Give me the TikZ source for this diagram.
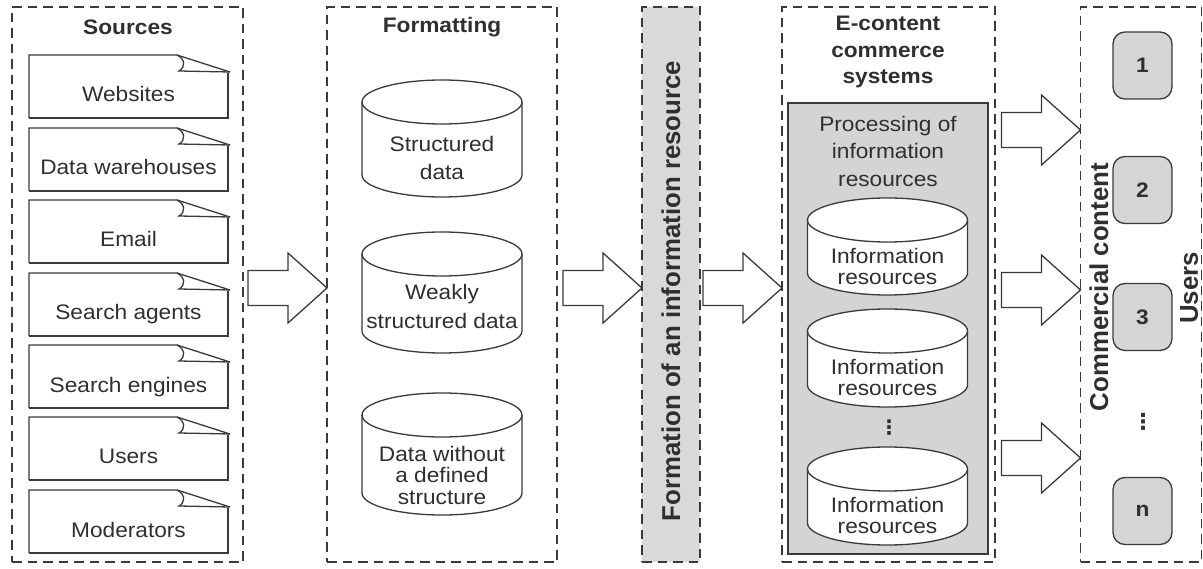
\documentclass[tikz,border=0pt]{standalone}
\usepackage{fontspec}
\setmainfont{Liberation Sans}[FakeStretch=1.08]
\newfontfamily\rotfont{Liberation Sans}
\newfontfamily\symfont{DejaVu Sans}
\usetikzlibrary{calc}

\definecolor{ink}{HTML}{2F2F2F}
\definecolor{edge}{HTML}{3A3A3A}
\definecolor{barfill}{HTML}{D9D9D9}
\definecolor{procfill}{HTML}{D4D4D4}
\definecolor{tilefill}{HTML}{D5D5D5}

\tikzset{
  every node/.style={text=ink, inner sep=0pt, outer sep=0pt},
  zone/.style={draw=edge, line width=1.8pt, dash pattern=on 9.5pt off 6pt},
  thin/.style={draw=edge, line width=1.3pt, line join=miter},
  arrowline/.style={thin, fill=white},
  label/.style={font=\fontsize{21}{24}\selectfont, text height=15pt, text depth=4pt},
  title/.style={font=\bfseries\fontsize{21}{26.5}\selectfont, align=center},
  multi/.style={font=\fontsize{21}{#1}\selectfont, align=center},
  vlabel/.style={rotate=90, font=\rotfont\bfseries\fontsize{25.8}{30}\selectfont},
  vdots/.style={font=\symfont\bfseries\fontsize{#1}{#1}\selectfont},
  tile/.style={thin, fill=tilefill, rounded corners=12pt, minimum width=59pt,
    minimum height=67pt, font=\bfseries\fontsize{21}{24}\selectfont},
  blockarrow/.pic={
    \draw[arrowline] (-79,-17.5) -- (-39,-17.5) -- (-39,-35) -- (0,0)
      -- (-39,35) -- (-39,17.5) -- (-79,17.5) -- cycle;
  }
}

% a source card with a curled top-right corner; #2 = top edge
\newcommand\sourcecard[3]{%
  \begin{scope}[shift={(29,#2)}]
    \draw[thin] (0,63) -- (0,0) -- (148,0) -- (201,17);
    \draw[thin] (148,0) .. controls (156,4) and (157,12) .. (150,16) -- (201,17);
    \draw[thin] (199,18) -- (199,63) -- (0,63);
    \node[label] (#1) at (99.5,41.5) {#3};
  \end{scope}}

% a database cylinder: name, centre x, top y, bottom y, text y, line skip, text
\newcommand\database[7]{%
  \filldraw[thin, fill=white] ({#2-80},#3) -- ({#2-80},#4)
    arc[start angle=180, end angle=0, x radius=80, y radius=22]
    -- ({#2+80},#3)
    arc[start angle=0, end angle=-180, x radius=80, y radius=22] -- cycle;
  \draw[thin] ({#2-80},#3) arc[start angle=180, end angle=0, x radius=80, y radius=22];
  \node[multi=#6] (#1) at (#2,#5) {#7};}

\begin{document}
\begin{tikzpicture}[x=1pt, y=-1pt]
\useasboundingbox (0,0) rectangle (1203,569);

% stage frames
\node[zone, minimum width=231pt, minimum height=555pt] (src) at (127.5,284.5) {};
\node[zone, minimum width=230pt, minimum height=555pt] (fmt) at (442,284.5) {};
\node[zone, fill=barfill, minimum width=58pt, minimum height=555pt] (form) at (671,284.5) {};
\node[zone, minimum width=213pt, minimum height=555pt] (ecs) at (888.5,284.5) {};
\node[zone, minimum width=121pt, minimum height=555pt] (com) at (1141,284.5) {};

% sources
\node[title] (srctitle) at (128,27) {Sources};
\sourcecard{web}{55}{Websites}
\sourcecard{dwh}{128}{Data warehouses}
\sourcecard{mail}{200}{Email}
\sourcecard{agents}{273}{Search agents}
\sourcecard{engines}{345}{Search engines}
\sourcecard{users}{417}{Users}
\sourcecard{mods}{490}{Moderators}

% formatting
\node[title] (fmttitle) at (442,27) {Formatting};
\database{sd}{442}{102}{175}{158}{28}{Structured\\data}
\database{wsd}{442}{254}{331}{306}{29}{Weakly\\structured data}
\database{usd}{442}{415}{493}{475}{21.5}{Data without\\a defined\\structure}

% formation of the resource
\node[vlabel] (formtxt) at (671,291) {Formation of an information resource};

% e-content commerce systems
\node[title] (ecstitle) at (888,52) {E-content\\commerce\\systems};
\node[thin, fill=procfill, minimum width=200pt, minimum height=451pt] (proc) at (888,328.5) {};
\node[multi=27.5] (proctitle) at (888,151) {Processing of\\information\\resources};
\database{ir1}{887.5}{220}{273}{266}{21}{Information\\resources}
\database{ir2}{887.5}{331}{385}{377}{21}{Information\\resources}
\database{ir3}{887.5}{469}{523}{515}{21}{Information\\resources}
\node[vdots=20] (irdots) at (889,428) {⋮};

% commercial content and users
\node[vlabel] (comtxt) at (1099,287) {Commercial content};
\node[vlabel] (usertxt) at (1189,288) {Users};
\node[tile] (u1) at (1142.5,65.5) {1};
\node[tile] (u2) at (1142.5,190) {2};
\node[tile] (u3) at (1142.5,317) {3};
\node[vdots=22] (udots) at (1143,422) {⋮};
\node[tile] (un) at (1142.5,511) {n};

% flow between stages
\coordinate (row) at (0,288);
\pic at (fmt.west |- row) {blockarrow};
\pic at (form.west |- row) {blockarrow};
\pic at (ecs.west |- row) {blockarrow};
\coordinate (r1) at (0,130);
\coordinate (r2) at (0,290);
\coordinate (r3) at (0,458);
\pic at (com.west |- r1) {blockarrow};
\pic at (com.west |- r2) {blockarrow};
\pic at (com.west |- r3) {blockarrow};
\end{tikzpicture}
\end{document}
